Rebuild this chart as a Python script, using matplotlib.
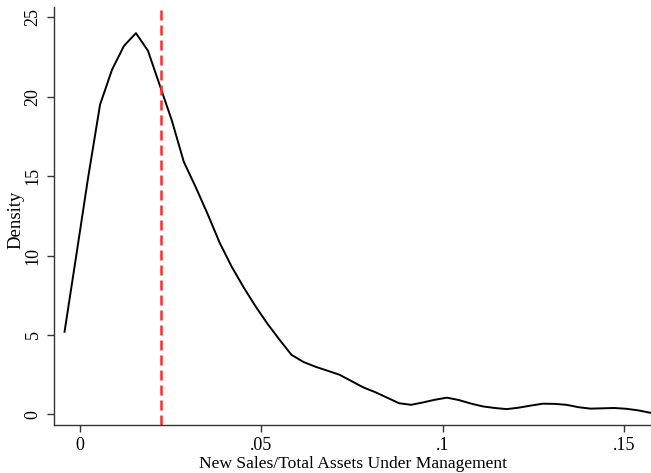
import matplotlib
matplotlib.use('Agg')
import matplotlib.pyplot as plt

# kernel density estimate of new sales / total AUM
ratio = [-0.0043, -0.0010, 0.0022, 0.0055, 0.0088, 0.0121, 0.0154, 0.0187,
         0.0220, 0.0253, 0.0286, 0.0319, 0.0352, 0.0385, 0.0418, 0.0451,
         0.0484, 0.0517, 0.0550, 0.0583, 0.0616, 0.0649, 0.0682, 0.0715,
         0.0748, 0.0781, 0.0814, 0.0847, 0.0880, 0.0913, 0.0946, 0.0979,
         0.1012, 0.1045, 0.1078, 0.1111, 0.1144, 0.1177, 0.1210, 0.1243,
         0.1276, 0.1309, 0.1342, 0.1375, 0.1408, 0.1441, 0.1474, 0.1507,
         0.1540, 0.1573]
density = [5.2, 10.1, 14.9, 19.5, 21.7, 23.2, 24.0, 22.9,
           20.7, 18.5, 15.9, 14.3, 12.6, 10.8, 9.3, 8.0,
           6.8, 5.7, 4.7, 3.75, 3.3, 3.0, 2.75, 2.5,
           2.1, 1.7, 1.4, 1.05, 0.7, 0.6, 0.75, 0.92,
           1.05, 0.9, 0.68, 0.5, 0.4, 0.33, 0.42, 0.55,
           0.67, 0.66, 0.6, 0.45, 0.36, 0.38, 0.4, 0.35,
           0.25, 0.1]
median_ratio = 0.0223

xticks = [0, 0.05, 0.1, 0.15]
xticklabels = ['0', '.05', '.1', '.15']
yticks = [0, 5, 10, 15, 20, 25]

plt.rcParams['font.family'] = ['Liberation Serif', 'DejaVu Serif']

fig = plt.figure(figsize=(6.51, 4.73), dpi=100)
ax = fig.add_axes([0.083, 0.1015, 0.917, 0.8835])

ax.plot(ratio, density, color='black', linewidth=1.4)
ax.axvline(median_ratio, color='#ff2a2a', linewidth=1.8, linestyle=(0, (4, 2.0)))

ax.set_xlim(-0.0072, 0.1575)
ax.set_ylim(-0.67, 25.64)
ax.set_xticks(xticks)
ax.set_xticklabels(xticklabels)
ax.set_yticks(yticks)
ax.set_yticklabels([str(v) for v in yticks], rotation=90, va='center')

for side in ['top', 'right']:
    ax.spines[side].set_visible(False)
for side in ['left', 'bottom']:
    ax.spines[side].set_linewidth(1.0)
    ax.spines[side].set_color('#333333')
ax.tick_params(direction='out', length=5, width=1.0, color='#333333',
               labelsize=13, pad=4)

ax.set_xlabel('New Sales/Total Assets Under Management', fontsize=12.6, labelpad=1)
ax.set_ylabel('Density', fontsize=13.5)
ax.yaxis.set_label_coords(-0.05, 0.49)

fig.savefig('out.png', dpi=100)
